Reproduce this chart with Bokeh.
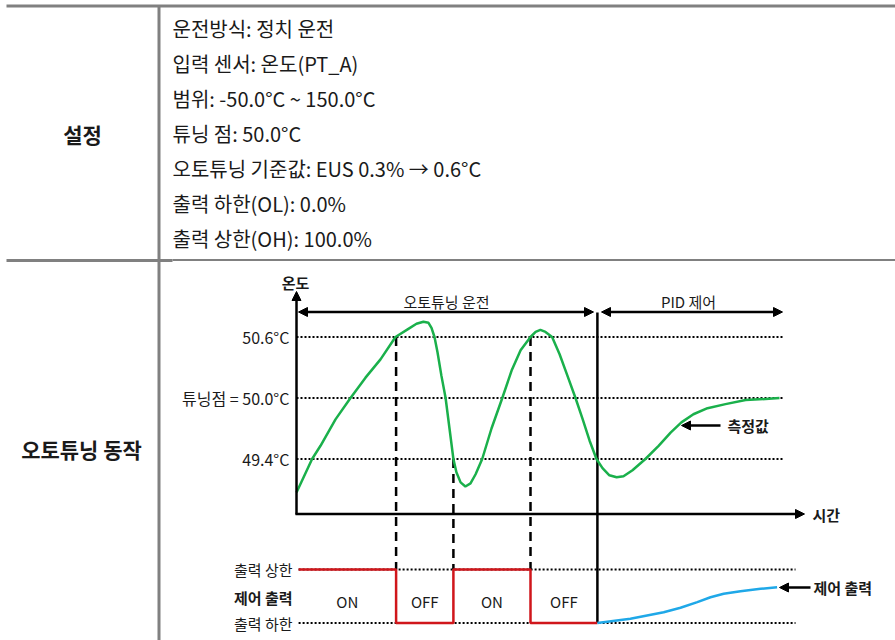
from bokeh.plotting import figure
from bokeh.models import Range1d, Arrow, NormalHead
from bokeh.core.properties import value
from bokeh.embed import file_html
from bokeh.resources import INLINE

# ---------------- data ----------------
row_labels = ["설정", "오토튜닝 동작"]
settings_lines = [
    "운전방식: 정치 운전",
    "입력 센서: 온도(PT_A)",
    "범위: -50.0°C ~ 150.0°C",
    "튜닝 점: 50.0°C",
    "오토튜닝 기준값: EUS 0.3% → 0.6°C",
    "출력 하한(OL): 0.0%",
    "출력 상한(OH): 100.0%",
]

temp_levels = [50.6, 50.0, 49.4]
temp_level_labels = ["50.6°C", "튜닝점 = 50.0°C", "49.4°C"]

# measured value (temperature) over time
meas_t = [0, 5.2, 8, 13, 18, 23, 28, 33, 37.3, 40, 42.3, 44, 45, 46, 47, 48.3, 49.7, 51, 52.3,
          53.3, 54.7, 56.3, 58, 59.7, 61.9, 65, 68.6, 71.7, 74.7, 78, 79.7, 81.3, 83, 85.2, 87.7,
          90.3, 93, 95.3, 97.7, 100, 102, 104.3, 106.7, 109, 112, 116.3, 120.7, 124.7, 128.3,
          132.3, 137, 143, 149.7, 156.3, 161]
meas_temp = [49.07, 49.40, 49.53, 49.79, 50.00, 50.20, 50.38, 50.60, 50.68, 50.73, 50.75, 50.74,
             50.69, 50.60, 50.45, 50.22, 50.00, 49.70, 49.40, 49.27, 49.17, 49.13, 49.16, 49.25,
             49.40, 49.70, 50.00, 50.27, 50.47, 50.60, 50.65, 50.67, 50.65, 50.60, 50.43, 50.22,
             50.00, 49.80, 49.58, 49.40, 49.31, 49.24, 49.22, 49.23, 49.29, 49.40, 49.53, 49.66,
             49.76, 49.84, 49.90, 49.94, 49.98, 49.99, 50.00]

# ON/OFF output during auto-tuning
switch_t = [0.7, 33.2, 52.3, 78, 100.3]
switch_out = [100, 0, 100, 0, 0]
switch_temp = [50.6, 49.4, 50.6]          # temperature at the three inner switches
phase_labels = ["ON", "OFF", "ON", "OFF"]

# PID control output
pid_t = [100.3, 111.3, 122.4, 128, 133.6, 138, 142.4, 148, 154.7, 160.2]
pid_out = [0, 7.9, 20.2, 28.4, 38.9, 48.2, 54.6, 59.4, 63.9, 66.9]

out_levels = [100, 0]
out_level_labels = ["출력 상한", "출력 하한"]

# ---------------- layout (screen pixel frame) ----------------
W, H = 895, 640
T_X0, T_PX = 296.0, 3.0            # x pixel of t=0, px per time unit
TEMP_Y50, TEMP_PX = 397.5, 101.67  # y pixel of 50.0 C, px per degree
OUT_Y0, OUT_PX = 622.5, 0.535      # y pixel of 0 %, px per percent

def temp_to_out(T):
    y = TEMP_Y50 - (T - 50.0) * TEMP_PX
    return (OUT_Y0 - y) / OUT_PX

def px_to_out(y):
    return (OUT_Y0 - y) / OUT_PX

FONT = value("Noto Sans CJK KR")
BLACK = "#1a1a1a"
GRAY = "#808080"

p = figure(width=W, height=H, x_range=Range1d(0, W), y_range=Range1d(H, 0),
           output_backend="svg", toolbar_location=None, x_axis_type=None, y_axis_type=None,
           min_border=0, outline_line_color=None)
p.extra_x_ranges = {"t": Range1d((0 - T_X0) / T_PX, (W - T_X0) / T_PX)}
p.extra_y_ranges = {
    "temp": Range1d(50.0 - (H - TEMP_Y50) / TEMP_PX, 50.0 + TEMP_Y50 / TEMP_PX),
    "out": Range1d((OUT_Y0 - H) / OUT_PX, OUT_Y0 / OUT_PX),
}

# ---- table ----
p.segment(x0=[6, 6], y0=[5.5, 260], x1=[W, 172], y1=[5.5, 260], line_color=GRAY, line_width=3)
p.segment(x0=[172], y0=[259.5], x1=[W], y1=[259.5], line_color=GRAY, line_width=2)
p.segment(x0=[158.5], y0=[5.5], x1=[158.5], y1=[H], line_color=GRAY, line_width=3)

p.text(x=[82, 81], y=[133, 448], text=row_labels, text_font=FONT, text_font_size="21px",
       text_font_style="bold", text_align="center", text_baseline="middle", text_color=BLACK)
p.text(x=[172] * len(settings_lines), y=[133 + (i - 3) * 35 for i in range(len(settings_lines))],
       text=settings_lines, text_font=FONT, text_font_size="20px", text_align="left",
       text_baseline="middle", text_color=BLACK)

# ---- temperature chart ----
t_end_dot = (782 - T_X0) / T_PX
p.segment(x0=[0] * 3, x1=[t_end_dot] * 3, y0=temp_levels, y1=temp_levels,
          x_range_name="t", y_range_name="temp", line_color="black", line_width=2, line_dash="2 2")
p.text(x=[289] * 3, y=temp_levels, text=temp_level_labels, y_range_name="temp", text_font=FONT,
       text_font_size="16px", text_align="right", text_baseline="middle", text_color=BLACK)

# ---- output section ----
t_end_dot2 = (795 - T_X0) / T_PX
p.segment(x0=[0.7] * 2, x1=[t_end_dot2] * 2, y0=out_levels, y1=out_levels,
          x_range_name="t", y_range_name="out", line_color="black", line_width=2, line_dash="2 2")
p.text(x=[292] * 2, y=out_levels, text=out_level_labels, y_range_name="out", text_font=FONT,
       text_font_size="15px", text_align="right", text_baseline="middle", text_color=BLACK)
p.text(x=[292], y=[48], text=["제어 출력"], y_range_name="out", text_font=FONT,
       text_font_size="15px", text_font_style="bold", text_align="right", text_baseline="middle",
       text_color=BLACK)

# dashed switch lines
inner_t = switch_t[1:4]
p.segment(x0=inner_t, x1=inner_t, y0=[temp_to_out(v) for v in switch_temp], y1=[100] * 3,
          x_range_name="t", y_range_name="out", line_color="black", line_width=2.5, line_dash="9 6")

# solid PID switch line
p.segment(x0=[switch_t[-1]], x1=[switch_t[-1]], y0=[px_to_out(312)], y1=[0],
          x_range_name="t", y_range_name="out", line_color="black", line_width=2.5)

# ON/OFF step
p.step(x=switch_t, y=switch_out, mode="after", x_range_name="t", y_range_name="out",
       line_color="#d0161b", line_width=2.5)
mids = [(switch_t[i] + switch_t[i + 1]) / 2 for i in range(4)]
p.text(x=mids, y=[40] * 4, text=phase_labels, x_range_name="t", y_range_name="out",
       text_font=FONT, text_font_size="15px", text_align="center", text_baseline="middle",
       text_color=BLACK)

# PID output
p.line(x=pid_t, y=pid_out, x_range_name="t", y_range_name="out", line_color="#1fa8e8",
       line_width=2.5)

# measured temperature
p.line(x=meas_t, y=meas_temp, x_range_name="t", y_range_name="temp", line_color="#1ab04b",
       line_width=2.5)

# ---- axes and arrows (pixel layout) ----
def head():
    return NormalHead(size=9, fill_color="black", line_color="black", line_width=1)

p.add_layout(Arrow(x_start=296, y_start=514, x_end=296, y_end=291, end=head(),
                   line_color="black", line_width=2.5))
p.add_layout(Arrow(x_start=295, y_start=513.5, x_end=804, y_end=513.5, end=head(),
                   line_color="black", line_width=2.5))
p.add_layout(Arrow(x_start=298, y_start=311.5, x_end=593, y_end=311.5, start=head(), end=head(),
                   line_color="black", line_width=2.5))
p.add_layout(Arrow(x_start=601, y_start=311.5, x_end=782, y_end=311.5, start=head(), end=head(),
                   line_color="black", line_width=2.5))
p.add_layout(Arrow(x_start=720, y_start=425, x_end=681, y_end=425, end=head(),
                   line_color="black", line_width=2.5))
p.add_layout(Arrow(x_start=810, y_start=587, x_end=779, y_end=587, end=head(),
                   line_color="black", line_width=2.5))

p.text(x=[295], y=[282], text=["온도"], text_font=FONT, text_font_size="15px",
       text_font_style="bold", text_align="center", text_baseline="middle", text_color=BLACK)
p.text(x=[446, 688], y=[301, 301], text=["오토튜닝 운전", "PID 제어"], text_font=FONT,
       text_font_size="15px", text_align="center", text_baseline="middle", text_color=BLACK)
p.text(x=[812, 727, 813], y=[514, 425, 587], text=["시간", "측정값", "제어 출력"], text_font=FONT,
       text_font_size="15px", text_font_style="bold", text_align="left", text_baseline="middle",
       text_color=BLACK)

p.grid.visible = False

open("out.html", "w").write(file_html(p, INLINE))
